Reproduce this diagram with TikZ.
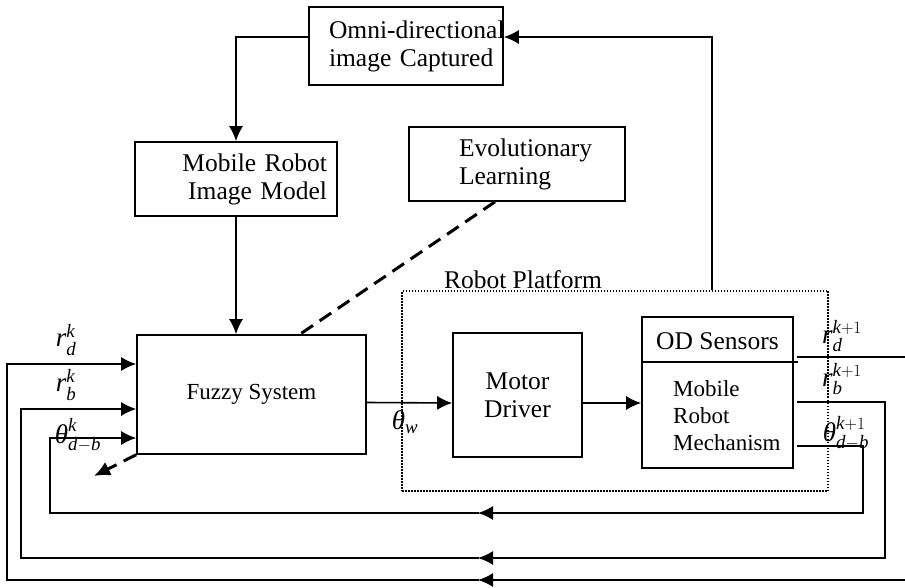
\documentclass[tikz,border=0pt]{standalone}
\usepackage{amsmath}
\usepackage{fontspec}
\setmainfont{Liberation Serif}
\usetikzlibrary{arrows.meta}

\tikzset{
  blk/.style={draw, line width=1.6pt, rectangle, inner sep=2pt},
  ln/.style={line width=1.6pt},
  arr/.style={line width=1.6pt, -{Latex[length=15pt,width=14pt]}},
  evodash/.style={line width=3pt, dash pattern=on 14pt off 8pt},
  platdot/.style={draw, line width=1.5pt, dash pattern=on 1.5pt off 1.5pt},
  sym/.style={font=\fontsize{27}{30}\selectfont, inner sep=0pt},
  small/.style={font=\fontsize{23}{27}\selectfont},
}

\begin{document}
\begin{tikzpicture}[x=1pt, y=-1pt, font=\fontsize{25.5}{28}\selectfont]
\useasboundingbox (0,0) rectangle (905,588);

\node [platdot, minimum width=426pt, minimum height=200pt] (platform) at (615,391) {}; % dotted frame
\node [anchor=south, inner sep=1pt] (platlabel) at ([xshift=-92pt]platform.north) {Robot Platform};

\node [blk, minimum height=78pt, text width=154pt, inner xsep=20pt, align=left] (omni) at (406,46) {\mbox{Omni-directional}\\\mbox{image Captured}}; % top box
\node [blk, minimum height=74pt, text width=182pt, inner xsep=10pt, align=right] (mrim) at (236,179) {\mbox{Mobile Robot}\\\mbox{Image Model}};
\node [blk, minimum height=74pt, text width=116pt, inner xsep=50pt, align=left] (evo) at (517,164) {\mbox{Evolutionary}\\\mbox{Learning}};
\node [blk, small, minimum width=229pt, minimum height=119pt] (fuzzy) at (251.5,394.5) {Fuzzy System};
\node [blk, minimum width=129pt, minimum height=124pt, align=center] (motor) at (517.5,395) {Motor\\Driver};
\node [blk, minimum width=151pt, minimum height=151pt] (od) at (717.5,392.5) {}; % sensor box
\node (odsens) at (717.5,341) {OD Sensors};
\node [small, anchor=west, align=left, inner sep=0pt] (odmech) at (673,416) {Mobile\\Robot\\Mechanism};
\draw [ln] ([yshift=-46pt]od.north west) -- ([yshift=-46pt,xshift=4pt]od.north east);

\coordinate (evoend) at (94,476);

% labels
\node [sym] (rdk) at (66,340) {$\textit{r}^{\textit{k}}_{\textit{d}}$};
\node [sym] (rbk) at (66,385) {$\textit{r}^{\textit{k}}_{\textit{b}}$};
\node [sym] (thk) at (78,435) {$\textit{θ}^{\textit{k}}_{\textit{d}-\textit{b}}$};
\node [sym] (thw) at (405,422) {$\textit{θ}_{\textit{w}}$};
\node [sym] (rdk1) at (842,336) {$\textit{r}^{\textit{k}+1}_{\textit{d}}$};
\node [sym] (rbk1) at (842,379) {$\textit{r}^{\textit{k}+1}_{\textit{b}}$};
\node [sym] (thk1) at (846,433) {$\textit{θ}^{\textit{k}+1}_{\textit{d}-\textit{b}}$};

\draw [arr] ([yshift=9pt]omni.west) -| (mrim.north);
\draw [arr] (mrim.south) -- (mrim.south |- fuzzy.north);
\draw [evodash] ([xshift=-22pt]evo.south) -- ([xshift=48.5pt]fuzzy.north);
\draw [evodash, -{Latex[length=16pt,width=15pt]}] (fuzzy.south west) -- (evoend);

\draw [arr] ([yshift=-8pt]fuzzy.east) -- ([yshift=-8pt]motor.west);
\draw [arr] ([yshift=-8pt]motor.east) -- ([yshift=-10.5pt]od.west);
\draw [arr] ([xshift=97pt]platform.north) |- ([yshift=9pt]omni.east);

% feedback loops
\draw [ln] ([yshift=35.5pt,xshift=3pt]od.east) -- (905,357);
\draw [arr] (905,580) -- (478,580);
\draw [arr] (479,580) -- (7,580) |- ([yshift=30.5pt]fuzzy.west);

\draw [arr] ([yshift=-9.5pt,xshift=3pt]od.east) -| (885,558) -- (478,558);
\draw [arr] (479,558) -- (21,558) |- ([yshift=-14.5pt]fuzzy.west);

\draw [arr] ([yshift=-53.5pt,xshift=3pt]od.east) -| (863,513) -- (478,513);
\draw [arr] (479,513) -- (50,513) |- ([yshift=-43.5pt]fuzzy.west);
\end{tikzpicture}
\end{document}
